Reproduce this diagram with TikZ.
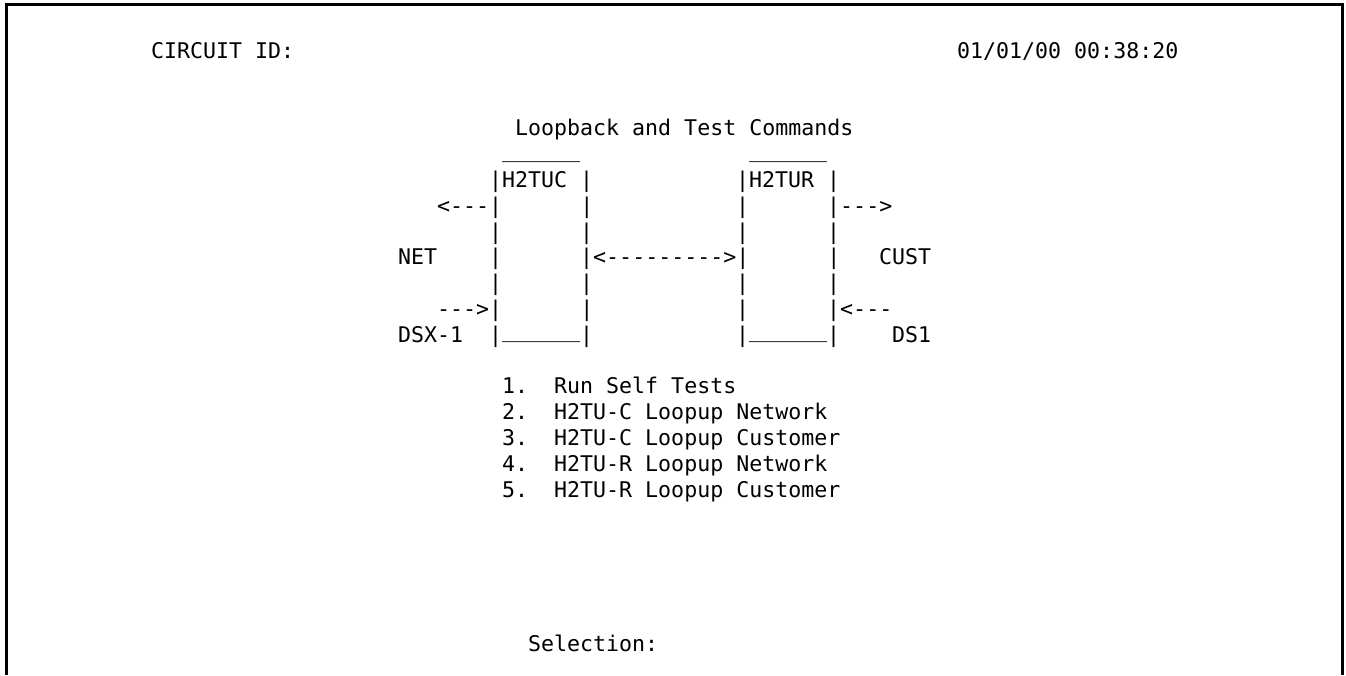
\documentclass[tikz,border=0pt]{standalone}
\usepackage{fontspec}
\setmonofont{DejaVu Sans Mono}
% six underscores, lifted to sit on the baseline of the row
\newcommand\boxedge{\raisebox{4.5pt}{\_\_\_\_\_\_}}
\begin{document}
\begin{tikzpicture}[x=1pt,y=-1pt,
  scr/.style={font=\ttfamily\fontsize{21.6}{25.8}\selectfont,
    inner sep=0pt, anchor=base west, text=black},
  cell/.style 2 args={at={({151+13*(#1)},{135.9+25.8*(#2)})}},
  frame/.style={line width=3pt, draw=black, line join=miter}]
\useasboundingbox (0,0) rectangle (1346,675);

% screen border, open at the bottom
\draw[frame] (6,675) -- (6,4) -- (1342,4) -- (1342,675);

% header line
\node[scr, cell={0}{-3}]  (circuit) {CIRCUIT ID:};
\node[scr, cell={62}{-3}] (stamp)   {01/01/00 00:38:20};

% title
\node[scr, cell={28}{0}] (title) {Loopback and Test Commands};

% unit boxes drawn in characters
\node[scr, cell={27}{1}] (tucTop)  {\boxedge};
\node[scr, cell={46}{1}] (turTop)  {\boxedge};
\node[scr, cell={26}{2}] (tucHead) {|H2TUC~|};
\node[scr, cell={45}{2}] (turHead) {|H2TUR~|};
\node[scr, cell={22}{3}] (netOut)  {<---|~~~~~~|};
\node[scr, cell={45}{3}] (custOut) {|~~~~~~|--->};
\node[scr, cell={26}{4}] (tucSideA) {|~~~~~~|};
\node[scr, cell={45}{4}] (turSideA) {|~~~~~~|};
\node[scr, cell={19}{5}] (net)     {NET};
\node[scr, cell={26}{5}] (span)    {|~~~~~~|<--------->|~~~~~~|};
\node[scr, cell={56}{5}] (cust)    {CUST};
\node[scr, cell={26}{6}] (tucSideB) {|~~~~~~|};
\node[scr, cell={45}{6}] (turSideB) {|~~~~~~|};
\node[scr, cell={22}{7}] (netIn)   {--->|~~~~~~|};
\node[scr, cell={45}{7}] (custIn)  {|~~~~~~|<---};
\node[scr, cell={19}{8}] (dsx)     {DSX-1};
\node[scr, cell={26}{8}] (tucBase) {|\boxedge|};
\node[scr, cell={45}{8}] (turBase) {|\boxedge|};
\node[scr, cell={57}{8}] (ds)      {DS1};

% menu
\node[scr, cell={27}{10}] (itemA) {1.~~Run Self Tests};
\node[scr, cell={27}{11}] (itemB) {2.~~H2TU-C Loopup Network};
\node[scr, cell={27}{12}] (itemC) {3.~~H2TU-C Loopup Customer};
\node[scr, cell={27}{13}] (itemD) {4.~~H2TU-R Loopup Network};
\node[scr, cell={27}{14}] (itemE) {5.~~H2TU-R Loopup Customer};

\node[scr, cell={29}{20}] (prompt) {Selection:};
\end{tikzpicture}
\end{document}
